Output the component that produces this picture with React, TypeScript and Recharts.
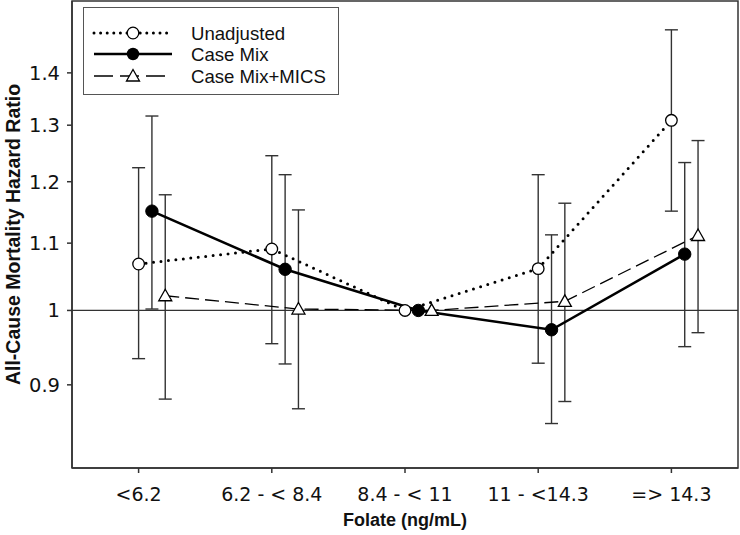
import React from 'react';
import { LineChart, Line, XAxis, YAxis, ErrorBar, ReferenceLine, ReferenceArea, Legend } from 'recharts';

// Folate categories (x axis)
const categories = ['<6.2', '6.2 - < 8.4', '8.4 - < 11', '11 - <14.3', '=> 14.3'];

// Hazard ratios with 95% CI (null = reference group, no CI)
const unadjHR = [1.068, 1.091, 1.0, 1.061, 1.309];
const unadjLo = [0.934, 0.954, null, 0.928, 1.151];
const unadjHi = [1.224, 1.245, null, 1.212, 1.488];

const caseHR = [1.151, 1.06, 1.0, 0.973, 1.083];
const caseLo = [1.002, 0.927, null, 0.852, 0.95];
const caseHi = [1.317, 1.212, null, 1.113, 1.233];

const micsHR = [1.021, 1.002, 1.0, 1.013, 1.112];
const micsLo = [0.882, 0.87, null, 0.879, 0.969];
const micsHi = [1.178, 1.153, null, 1.164, 1.272];

const yTicks = [0.9, 1, 1.1, 1.2, 1.3, 1.4];

// small dodge so the three series don't sit on top of each other
const buildSeries = (hr: number[], lo: (number | null)[], hi: (number | null)[], shift: number) =>
  hr.map((v, i) => ({
    x: i + shift,
    hr: v,
    err: lo[i] == null ? null : [v - (lo[i] as number), (hi[i] as number) - v],
  }));

const unadj = buildSeries(unadjHR, unadjLo, unadjHi, 0);
const caseMix = buildSeries(caseHR, caseLo, caseHi, 0.1);
const mics = buildSeries(micsHR, micsLo, micsHi, 0.2);

const INK = '#000';
const GREY = '#333';
const ARIAL = "'Liberation Sans', Arial, sans-serif";
const TICKFONT = "'DejaVu Sans', sans-serif";

const OpenCircle = (props: any) => {
  const { cx, cy, index } = props;
  return <circle key={`oc-${index}`} cx={cx} cy={cy} r={5.8} fill="#fff" stroke={INK} strokeWidth={1.3} />;
};

const FilledCircle = (props: any) => {
  const { cx, cy, index } = props;
  return <circle key={`fc-${index}`} cx={cx} cy={cy} r={6.2} fill={INK} stroke={INK} strokeWidth={1} />;
};

const Triangle = (props: any) => {
  const { cx, cy, index } = props;
  return (
    <polygon
      key={`tr-${index}`}
      points={`${cx},${cy - 6.5} ${cx - 6.5},${cy + 5} ${cx + 6.5},${cy + 5}`}
      fill="#fff"
      stroke={INK}
      strokeWidth={1.3}
    />
  );
};

const LegendBox = () => {
  const rows = [
    { name: 'Unadjusted', y: 25, dash: '0 6.6', width: 3, cap: 'round' as const, marker: 'open' },
    { name: 'Case Mix', y: 46, dash: undefined, width: 2.6, cap: 'butt' as const, marker: 'filled' },
    { name: 'Case Mix+MICS', y: 68, dash: '19 7', width: 1.3, cap: 'butt' as const, marker: 'tri' },
  ];
  return (
    <div style={{ width: 256, height: 88, border: `1.5px solid #555`, background: '#fff', boxSizing: 'border-box' }}>
      <svg width={254} height={86} style={{ display: 'block' }}>
        {rows.map(r => (
          <g key={r.name}>
            <line x1={10} x2={88} y1={r.y} y2={r.y} stroke={INK} strokeWidth={r.width} strokeDasharray={r.dash} strokeLinecap={r.cap} />
            {r.marker === 'open' && <circle cx={49} cy={r.y} r={5.8} fill="#fff" stroke={INK} strokeWidth={1.3} />}
            {r.marker === 'filled' && <circle cx={49} cy={r.y} r={6.2} fill={INK} />}
            {r.marker === 'tri' && (
              <polygon points={`49,${r.y - 6.5} 42.5,${r.y + 5} 55.5,${r.y + 5}`} fill="#fff" stroke={INK} strokeWidth={1.3} />
            )}
            <text x={107} y={r.y} dy="0.36em" fontSize={18.6} fontFamily={ARIAL} fill="#111">
              {r.name}
            </text>
          </g>
        ))}
      </svg>
    </div>
  );
};

const App: React.FC = () => {
  return (
    <div style={{ position: 'absolute', left: 0, top: 0, fontFamily: ARIAL }}>
      <LineChart width={740} height={535} margin={{ top: 1, right: 2, bottom: 0, left: 10 }}>
        <XAxis
          type="number"
          dataKey="x"
          domain={[-0.5, 4.5]}
          ticks={[0, 1, 2, 3, 4]}
          interval={0}
          allowDataOverflow
          tickFormatter={(i: number) => categories[i] ?? ''}
          height={67}
          tickSize={5}
          tickMargin={15}
          stroke={GREY}
          fontSize={19}
          fontFamily={TICKFONT}
          axisLine={{ stroke: GREY, strokeWidth: 1.5 }}
          tickLine={{ stroke: GREY, strokeWidth: 1.5 }}
          tick={{ fill: '#111', fontSize: 19, fontFamily: TICKFONT, style: { fontSize: 19, fontFamily: TICKFONT } }}
          label={{
            value: 'Folate (ng/mL)',
            position: 'insideBottom',
            offset: 9,
            style: { fontWeight: 'bold', fontSize: 18, fill: '#111', fontFamily: ARIAL },
          }}
        />
        <YAxis
          type="number"
          scale="log"
          domain={[0.8, 1.55]}
          ticks={yTicks}
          allowDataOverflow
          width={62}
          tickSize={5}
          tickMargin={7}
          fontSize={19.5}
          fontFamily={TICKFONT}
          tickFormatter={(v: number) => String(v)}
          axisLine={{ stroke: GREY, strokeWidth: 1.5 }}
          tickLine={{ stroke: GREY, strokeWidth: 1.5 }}
          tick={{ fill: '#111', fontSize: 19.5, fontFamily: TICKFONT, style: { fontSize: 19.5, fontFamily: TICKFONT } }}
          label={{
            value: 'All-Cause Mortality Hazard Ratio',
            angle: -90,
            position: 'insideLeft',
            offset: 3,
            style: { textAnchor: 'middle', fontWeight: 'bold', fontSize: 19.5, fill: '#111', fontFamily: ARIAL },
          }}
        />
        <ReferenceArea x1={-0.5} x2={4.5} y1={0.8} y2={1.55} fill="none" stroke={GREY} strokeWidth={1.5} ifOverflow="extendDomain" />
        <ReferenceLine y={1} stroke={GREY} strokeWidth={1.3} />

        {/* confidence intervals, drawn under the lines and markers */}
        <Line data={unadj.filter(d => d.err)} dataKey="hr" stroke="none" dot={false} activeDot={false} legendType="none" isAnimationActive={false}>
          <ErrorBar dataKey="err" width={6.5} stroke={GREY} strokeWidth={1.4} />
        </Line>
        <Line data={caseMix.filter(d => d.err)} dataKey="hr" stroke="none" dot={false} activeDot={false} legendType="none" isAnimationActive={false}>
          <ErrorBar dataKey="err" width={6.5} stroke={GREY} strokeWidth={1.4} />
        </Line>
        <Line data={mics.filter(d => d.err)} dataKey="hr" stroke="none" dot={false} activeDot={false} legendType="none" isAnimationActive={false}>
          <ErrorBar dataKey="err" width={6.5} stroke={GREY} strokeWidth={1.4} />
        </Line>

        <Line
          data={unadj}
          dataKey="hr"
          name="Unadjusted"
          type="linear"
          stroke={INK}
          strokeWidth={3}
          strokeDasharray="0 7.5"
          strokeLinecap="round"
          dot={OpenCircle}
          activeDot={false}
          isAnimationActive={false}
        />
        <Line
          data={caseMix}
          dataKey="hr"
          name="Case Mix"
          type="linear"
          stroke={INK}
          strokeWidth={2.6}
          dot={FilledCircle}
          activeDot={false}
          isAnimationActive={false}
        />
        <Line
          data={mics}
          dataKey="hr"
          name="Case Mix+MICS"
          type="linear"
          stroke={INK}
          strokeWidth={1.3}
          strokeDasharray="14 6"
          dot={Triangle}
          activeDot={false}
          isAnimationActive={false}
        />
        <Legend
          layout="vertical"
          align="center"
          verticalAlign="middle"
          content={() => <LegendBox />}
          wrapperStyle={{ left: 83, top: 7, width: 256, height: 88 }}
        />
      </LineChart>
    </div>
  );
};

export default App;
